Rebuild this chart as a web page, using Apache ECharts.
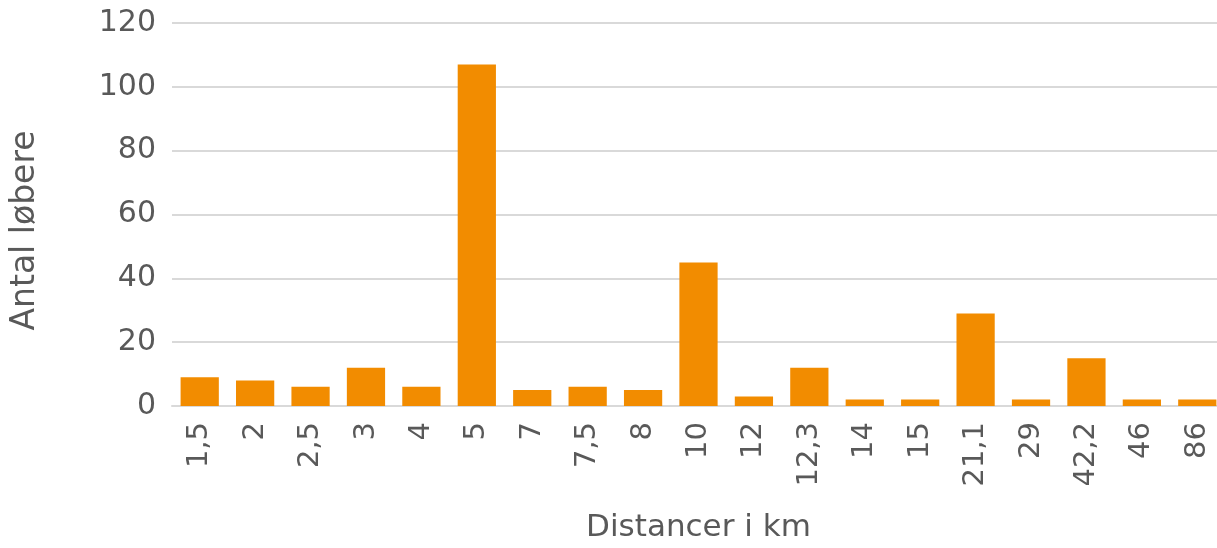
<!DOCTYPE html>
<html>
<head>
<meta charset="utf-8">
<style>
  html, body { margin: 0; padding: 0; background: #fff; overflow: hidden; width: 1217px; height: 548px; }
  /* the plot area runs slightly past the right edge of the page */
  #chart { width: 1225px; height: 548px; }
</style>
<script src="https://cdn.jsdelivr.net/npm/echarts@6/dist/echarts.min.js"></script>
</head>
<body>
<div id="chart"></div>
<script>
// Distances (km) and number of runners per distance
const distances = ['1,5', '2', '2,5', '3', '4', '5', '7', '7,5', '8', '10', '12', '12,3', '14', '15', '21,1', '29', '42,2', '46', '86'];
const runners = [9, 8, 6, 12, 6, 107, 5, 6, 5, 45, 3, 12, 2, 2, 29, 2, 15, 2, 2];
const yTicks = [0, 20, 40, 60, 80, 100, 120];

const textColor = '#595959';
const fontFamily = '"DejaVu Sans", sans-serif';

const chart = echarts.init(document.getElementById('chart'));
chart.setOption({
  animation: false,
  grid: { left: 172, right: 0, top: 23, bottom: 141, containLabel: false },
  xAxis: {
    type: 'category',
    data: distances,
    name: 'Distancer i km',
    nameLocation: 'middle',
    nameGap: 106,
    nameTextStyle: { color: textColor, fontSize: 31, fontFamily },
    axisLine: { show: true, lineStyle: { color: '#d9d9d9', width: 2 } },
    axisTick: { show: false },
    axisLabel: { rotate: 90, color: textColor, fontSize: 29, fontFamily, margin: 16 }
  },
  yAxis: {
    type: 'value',
    min: yTicks[0],
    max: yTicks[yTicks.length - 1],
    interval: 20,
    name: 'Antal løbere',
    nameLocation: 'middle',
    nameGap: 130,
    nameTextStyle: { color: textColor, fontSize: 33, fontFamily, padding: [0, 32, 0, 0] },
    axisLine: { show: false },
    axisTick: { show: false },
    axisLabel: { color: textColor, fontSize: 30, fontFamily, margin: 16 },
    splitLine: { lineStyle: { color: '#d9d9d9', width: 2 } }
  },
  series: [{
    type: 'bar',
    data: runners,
    barCategoryGap: '31%',
    itemStyle: { color: '#f28c00' }
  }]
});
</script>
</body>
</html>
